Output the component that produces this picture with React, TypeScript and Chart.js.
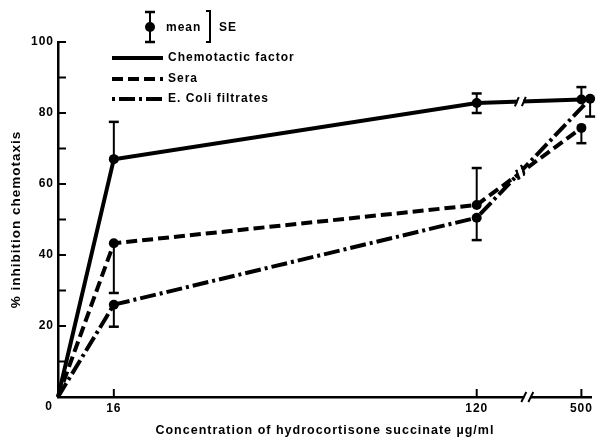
import { useEffect, useRef } from "react";
import { Chart, registerables } from "chart.js";

Chart.register(...registerables);

// ---- data ----
const concentrationLabels = ["0", "16", "120", "500"];
// positions of the concentrations on the broken x axis
const xPositions = [0, 16, 120, 150];
const ecoliXPositions = [0, 16, 120, 152.5];
const xTickPositions = [16, 120, 150];
const xTickLabels = ["16", "120", "500"];

const chemotactic = [0, 67, 82.8, 83.8];
const chemErrUp = [0, 10.5, 2.7, 3.5];
const chemErrDown = [0, 0, 2.8, 0];

const sera = [0, 43.3, 54.1, 75.8];
const seraErrUp = [0, 0, 10.4, 0];
const seraErrDown = [0, 14, 0, 4.3];

const ecoli = [0, 26, 50.5, 84];
const ecoliErrUp = [0, 0, 0, 0];
const ecoliErrDown = [0, 6.2, 6.3, 5];

const yTickValues = [0, 10, 20, 30, 40, 50, 60, 70, 80, 90, 100];
const yTickLabels = ["", "", "20", "", "40", "", "60", "", "80", "", "100"];

const seriesLabels = ["Chemotactic factor", "Sera", "E. Coli filtrates"];
const xTitle = "Concentration of hydrocortisone succinate µg/ml";
const yTitle = "% inhibition chemotaxis";

const lineBreakPos = 132.5;
const axisBreakPos = 134.5;

const FONT = "'Liberation Sans', Arial, sans-serif";

const errUp = [chemErrUp, seraErrUp, ecoliErrUp];
const errDown = [chemErrDown, seraErrDown, ecoliErrDown];

const setSpacing = (chart: any) => {
  try {
    (chart.ctx as any).letterSpacing = "1px";
  } catch (e) {}
};

const overlayPlugin = {
  id: "overlay",
  beforeLayout(chart: any) {
    setSpacing(chart);
  },
  beforeDraw(chart: any) {
    setSpacing(chart);
  },
  afterDatasetsDraw(chart: any) {
    const ctx = chart.ctx as CanvasRenderingContext2D;
    const xs = chart.scales.x;
    const ys = chart.scales.y;
    ctx.save();
    ctx.strokeStyle = "#000";
    ctx.fillStyle = "#000";
    ctx.setLineDash([]);

    // error bars
    chart.data.datasets.forEach((ds: any, i: number) => {
      const meta = chart.getDatasetMeta(i);
      meta.data.forEach((pt: any, j: number) => {
        const v = ds.data[j].y;
        const up = errUp[i][j];
        const dn = errDown[i][j];
        const x = pt.x;
        const draw = (e: number) => {
          const y0 = ys.getPixelForValue(v);
          const y1 = ys.getPixelForValue(v + e);
          ctx.lineWidth = 2;
          ctx.beginPath();
          ctx.moveTo(x, y0);
          ctx.lineTo(x, y1);
          ctx.stroke();
          ctx.lineWidth = 2.5;
          ctx.beginPath();
          ctx.moveTo(x - 5, y1);
          ctx.lineTo(x + 5, y1);
          ctx.stroke();
        };
        if (up) draw(up);
        if (dn) draw(-dn);
      });
    });

    // line breaks
    const bx = xs.getPixelForValue(lineBreakPos);
    const breaks: any[] = [];
    chart.data.datasets.forEach((_ds: any, i: number) => {
      const meta = chart.getDatasetMeta(i);
      const p2 = meta.data[2];
      const p3 = meta.data[3];
      const t = (bx - p2.x) / (p3.x - p2.x);
      const y = p2.y + t * (p3.y - p2.y);
      const dx = p3.x - p2.x;
      const dy = p3.y - p2.y;
      const len = Math.hypot(dx, dy);
      breaks.push({ x: bx, y, dx: dx / len, dy: dy / len });
    });
    breaks.forEach((b) => {
      ctx.strokeStyle = "#fff";
      ctx.lineWidth = 8;
      ctx.lineCap = "butt";
      ctx.beginPath();
      ctx.moveTo(b.x - 3 * b.dx, b.y - 3 * b.dy);
      ctx.lineTo(b.x + 3 * b.dx, b.y + 3 * b.dy);
      ctx.stroke();
    });
    breaks.forEach((b) => {
      const px = b.dy, py = -b.dx;
      const sx = px * 0.91 + b.dx * 0.42;
      const sy = py * 0.91 + b.dy * 0.42;
      ctx.strokeStyle = "#000";
      ctx.lineWidth = 2;
      [-3.5, 3.5].forEach((o) => {
        const cx = b.x + o * b.dx;
        const cy = b.y + o * b.dy;
        ctx.beginPath();
        ctx.moveTo(cx - 5 * sx, cy - 5 * sy);
        ctx.lineTo(cx + 5 * sx, cy + 5 * sy);
        ctx.stroke();
      });
    });
    ctx.restore();
  },
  afterDraw(chart: any) {
    const ctx = chart.ctx as CanvasRenderingContext2D;
    const xs = chart.scales.x;
    const ys = chart.scales.y;
    const area = chart.chartArea;
    ctx.save();
    ctx.strokeStyle = "#000";
    ctx.fillStyle = "#000";
    ctx.setLineDash([]);
    ctx.lineCap = "butt";

    // inward ticks
    ctx.lineWidth = 2;
    yTickValues.forEach((v) => {
      if (v === 0) return;
      const y = ys.getPixelForValue(v);
      ctx.beginPath();
      ctx.moveTo(area.left, y);
      ctx.lineTo(area.left + 8, y);
      ctx.stroke();
    });
    xTickPositions.forEach((v) => {
      const x = xs.getPixelForValue(v);
      ctx.beginPath();
      ctx.moveTo(x, area.bottom);
      ctx.lineTo(x, area.bottom - 8);
      ctx.stroke();
    });

    // axis break
    const ax = xs.getPixelForValue(axisBreakPos);
    ctx.fillStyle = "#fff";
    ctx.fillRect(ax - 3, area.bottom - 3, 6, 6);
    ctx.fillStyle = "#000";
    ctx.lineWidth = 2;
    [-3.5, 3.5].forEach((o) => {
      ctx.beginPath();
      ctx.moveTo(ax + o - 2.5, area.bottom + 5);
      ctx.lineTo(ax + o + 2.5, area.bottom - 5);
      ctx.stroke();
    });

    // corner zero
    ctx.font = `bold 12px ${FONT}`;
    ctx.textAlign = "center";
    ctx.textBaseline = "middle";
    ctx.fillText("0", xs.getPixelForValue(0) - 9, ys.getPixelForValue(0) + 10);

    // legend: mean / SE symbol
    const ex = 150;
    ctx.lineWidth = 2;
    ctx.beginPath();
    ctx.moveTo(ex, 12);
    ctx.lineTo(ex, 42);
    ctx.stroke();
    ctx.lineWidth = 2.5;
    ctx.beginPath();
    ctx.moveTo(ex - 5, 12);
    ctx.lineTo(ex + 5, 12);
    ctx.moveTo(ex - 5, 42);
    ctx.lineTo(ex + 5, 42);
    ctx.stroke();
    ctx.beginPath();
    ctx.arc(ex, 27, 5, 0, Math.PI * 2);
    ctx.fill();
    ctx.textAlign = "left";
    ctx.fillText("mean", 166, 28);
    ctx.lineWidth = 2;
    ctx.beginPath();
    ctx.moveTo(206, 11);
    ctx.lineTo(210, 11);
    ctx.lineTo(210, 42);
    ctx.lineTo(206, 42);
    ctx.stroke();
    ctx.fillText("SE", 219, 28);

    // legend: series
    const rows = [58, 79, 99];
    chart.data.datasets.forEach((ds: any, i: number) => {
      const y = rows[i];
      ctx.lineWidth = 4;
      ctx.setLineDash(ds.borderDash || []);
      ctx.lineDashOffset = i === 2 ? 20 : 0;
      ctx.beginPath();
      ctx.moveTo(112, y);
      ctx.lineTo(163, y);
      ctx.stroke();
      ctx.setLineDash([]);
      ctx.fillText(ds.label, 168, y);
    });
    ctx.restore();
  },
};

export default function App() {
  const ref = useRef<HTMLCanvasElement | null>(null);
  useEffect(() => {
    if (!ref.current) return;
    const mk = (xp: number[], ys: number[]) => ys.map((y, i) => ({ x: xp[i], y }));
    const common = {
      borderColor: "#000",
      backgroundColor: "#000",
      borderWidth: 4,
      pointRadius: [0, 5, 5, 5],
      pointBorderWidth: 0,
      pointBackgroundColor: "#000",
      tension: 0,
      clip: false as any,
    };
    const chart = new Chart(ref.current, {
      type: "line",
      data: {
        labels: concentrationLabels,
        datasets: [
          { ...common, label: seriesLabels[0], data: mk(xPositions, chemotactic) },
          { ...common, label: seriesLabels[1], data: mk(xPositions, sera), borderDash: [11, 5] },
          { ...common, label: seriesLabels[2], data: mk(ecoliXPositions, ecoli), borderDash: [16, 4, 3, 4] },
        ],
      },
      options: {
        responsive: false,
        animation: false,
        events: [],
        layout: { padding: { top: 42, right: 5, left: 0, bottom: 0 } },
        plugins: { legend: { display: false }, tooltip: { enabled: false } },
        scales: {
          x: {
            type: "linear",
            min: 0,
            max: 153,
            afterBuildTicks: (s: any) => {
              s.ticks = xTickPositions.map((v) => ({ value: v }));
            },
            afterFit: (s: any) => {
              s.height = 42;
            },
            ticks: {
              autoSkip: false,
              maxRotation: 0,
              padding: 4,
              color: "#000",
              font: { family: FONT, size: 12, weight: "bold" },
              callback: (v: any) => {
                const i = xTickPositions.indexOf(Number(v));
                return i >= 0 ? xTickLabels[i] : "";
              },
            },
            grid: { display: false, drawTicks: false, tickLength: 0 },
            border: { display: true, color: "#000", width: 2.5 },
            title: {
              display: true,
              text: xTitle,
              color: "#000",
              font: { family: FONT, size: 12.5, weight: "bold" },
              padding: { top: 0, bottom: 1 },
            },
          },
          y: {
            type: "linear",
            min: 0,
            max: 100,
            afterBuildTicks: (s: any) => {
              s.ticks = yTickValues.map((v) => ({ value: v }));
            },
            afterFit: (s: any) => {
              s.width = 58;
            },
            ticks: {
              autoSkip: false,
              padding: 4,
              color: "#000",
              font: { family: FONT, size: 12, weight: "bold" },
              callback: (v: any) => {
                const i = yTickValues.indexOf(Number(v));
                return i >= 0 ? yTickLabels[i] : "";
              },
            },
            grid: { display: false, drawTicks: false, tickLength: 0 },
            border: { display: true, color: "#000", width: 2.5 },
            title: {
              display: true,
              text: yTitle,
              color: "#000",
              font: { family: FONT, size: 13.5, weight: "bold" },
              padding: { top: 8, bottom: 0 },
            },
          },
        },
      },
      plugins: [overlayPlugin],
    });
    return () => chart.destroy();
  }, []);
  return (
    <div style={{ position: "fixed", left: 0, top: 0, width: 597, height: 439, background: "#fff" }}>
      <canvas ref={ref} width={597} height={439} style={{ width: 597, height: 439 }} />
    </div>
  );
}
